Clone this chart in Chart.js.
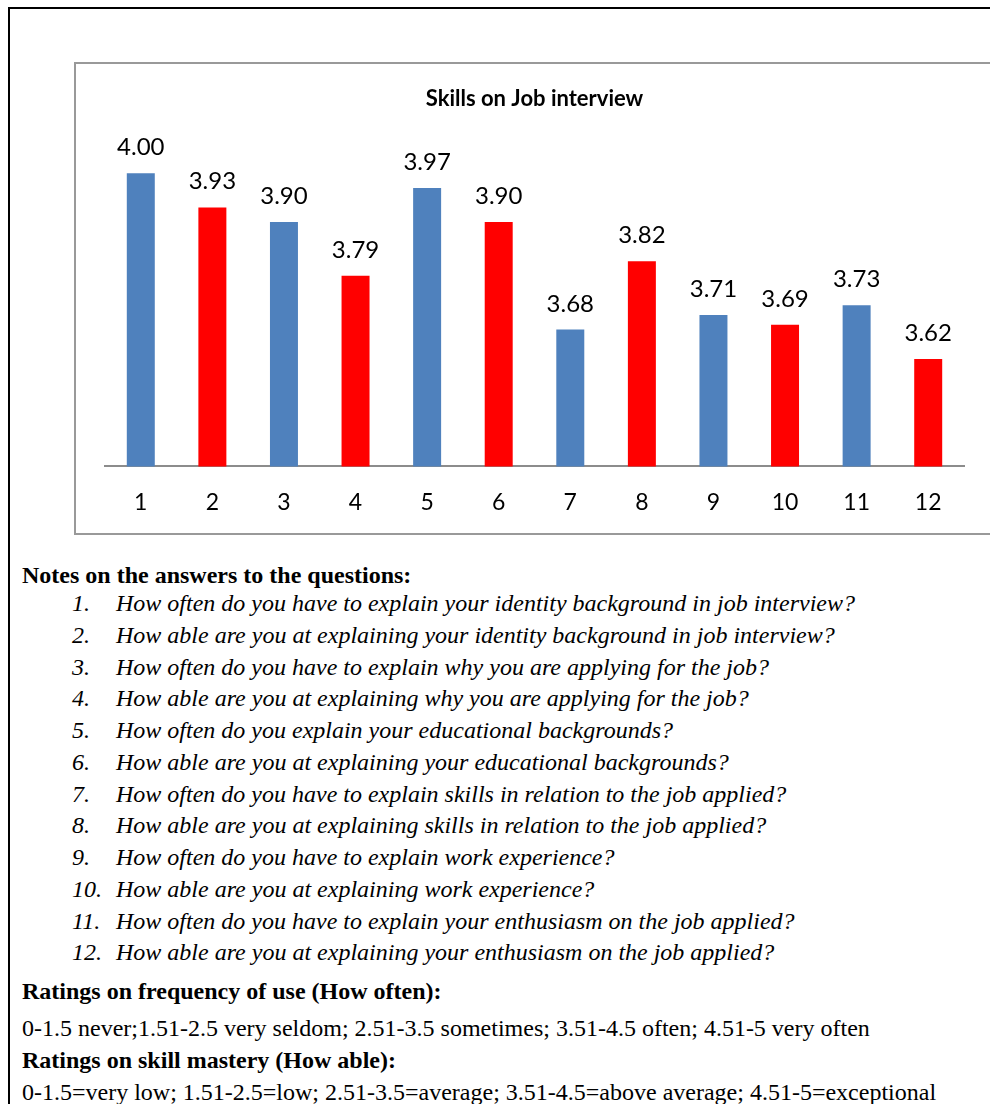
<!DOCTYPE html>
<html>
<head>
<meta charset="utf-8">
<script src="https://cdn.jsdelivr.net/npm/chart.js@4"></script>
<style>
  html, body { margin: 0; padding: 0; background: #fff; width: 990px; height: 1104px; overflow: hidden; }
  #outer { position: absolute; left: 8px; top: 7px; width: 1100px; height: 1200px; border-left: 2px solid #000; border-top: 2px solid #000; }
  #box { position: absolute; left: 74px; top: 62px; width: 1000px; height: 469px; border-left: 2px solid #999; border-top: 2px solid #999; border-bottom: 2px solid #999; }
  #chart { position: absolute; left: 76px; top: 64px; }
  .t { position: absolute; font-family: "Liberation Serif", "Times New Roman", serif; font-size: 24px; line-height: 0; white-space: nowrap; color: #000; }
  .b { font-weight: bold; }
  .i { font-style: italic; }
</style>
</head>
<body>
<div id="outer"></div>
<div id="box"></div>
<canvas id="chart" width="914" height="469"></canvas>
<div id="notes"></div>
<script>
// ---- data ----
const chartTitle = 'Skills on Job interview';
const categories = ['1', '2', '3', '4', '5', '6', '7', '8', '9', '10', '11', '12'];
const values = [4.00, 3.93, 3.90, 3.79, 3.97, 3.90, 3.68, 3.82, 3.71, 3.69, 3.73, 3.62];
const yRange = [3.4, 4.1];
const notesTitle = 'Notes on the answers to the questions:';
const questions = [
  'How often do you have to explain your identity background in job interview?',
  'How able are you at explaining your identity background in job interview?',
  'How often do you have to explain why you are applying for the job?',
  'How able are you at explaining why you are applying for the job?',
  'How often do you explain your educational backgrounds?',
  'How able are you at explaining your educational backgrounds?',
  'How often do you have to explain skills in relation to the job applied?',
  'How able are you at explaining skills in relation to the job applied?',
  'How often do you have to explain work experience?',
  'How able are you at explaining work experience?',
  'How often do you have to explain your enthusiasm on the job applied?',
  'How able are you at explaining your enthusiasm on the job applied?'
];
const ratingHeads = ['Ratings on frequency of use (How often):', 'Ratings on skill mastery (How able):'];
const ratingTexts = [
  '0-1.5 never;1.51-2.5 very seldom; 2.51-3.5 sometimes; 3.51-4.5 often; 4.51-5 very often',
  '0-1.5=very low; 1.51-2.5=low; 2.51-3.5=average; 3.51-4.5=above average; 4.51-5=exceptional'
];

// ---- text below chart ----
(function () {
  const host = document.getElementById('notes');
  const shift = 8; // baseline offset for line-height:0 with Liberation Serif 24px
  function add(text, x, baseline, cls) {
    const d = document.createElement('div');
    d.className = 't ' + cls;
    d.style.left = x + 'px';
    d.style.top = (baseline - shift) + 'px';
    d.textContent = text;
    host.appendChild(d);
  }
  add(notesTitle, 22, 583, 'b');
  questions.forEach((q, i) => {
    const bl = 611 + i * 31.75;
    add((i + 1) + '.', 72, bl, 'i');
    add(q, 116, bl, 'i');
  });
  add(ratingHeads[0], 22, 999, 'b');
  add(ratingTexts[0], 22, 1036, '');
  add(ratingHeads[1], 22, 1068, 'b');
  add(ratingTexts[1], 22, 1100, '');
})();

// ---- chart ----
const blue = '#4F81BD', red = '#FF0000';
const valueLabels = {
  id: 'valueLabels',
  afterDatasetsDraw(chart) {
    const ctx = chart.ctx;
    const meta = chart.getDatasetMeta(0);
    ctx.save();
    ctx.font = '24px Lato';
    ctx.fillStyle = '#000';
    ctx.textAlign = 'center';
    ctx.textBaseline = 'alphabetic';
    meta.data.forEach((bar, i) => {
      ctx.fillText(values[i].toFixed(2), bar.x, bar.y - 18);
    });
    ctx.restore();
  }
};

new Chart(document.getElementById('chart'), {
  type: 'bar',
  data: {
    labels: categories,
    datasets: [{
      data: values,
      backgroundColor: (c) => (c.dataIndex % 2 === 0 ? blue : red),
      borderWidth: 0,
      barPercentage: 0.391,
      categoryPercentage: 1
    }]
  },
  options: {
    responsive: false,
    devicePixelRatio: 1,
    animation: false,
    layout: { padding: { left: 29, right: 26, top: 0, bottom: -5 } },
    plugins: {
      legend: { display: false },
      tooltip: { enabled: false },
      title: {
        display: true,
        text: chartTitle,
        color: '#000',
        font: { family: 'Lato', size: 22, weight: 'bold', lineHeight: 1.2 },
        padding: { top: 22, bottom: 12 }
      }
    },
    scales: {
      y: { display: false, min: yRange[0], max: yRange[1] },
      x: {
        grid: { display: false, drawTicks: false },
        border: { display: true, color: '#8c8c8c', width: 2 },
        ticks: { color: '#000', font: { family: 'Lato', size: 23 }, padding: 22 }
      }
    }
  },
  plugins: [valueLabels]
});
</script>
</body>
</html>
